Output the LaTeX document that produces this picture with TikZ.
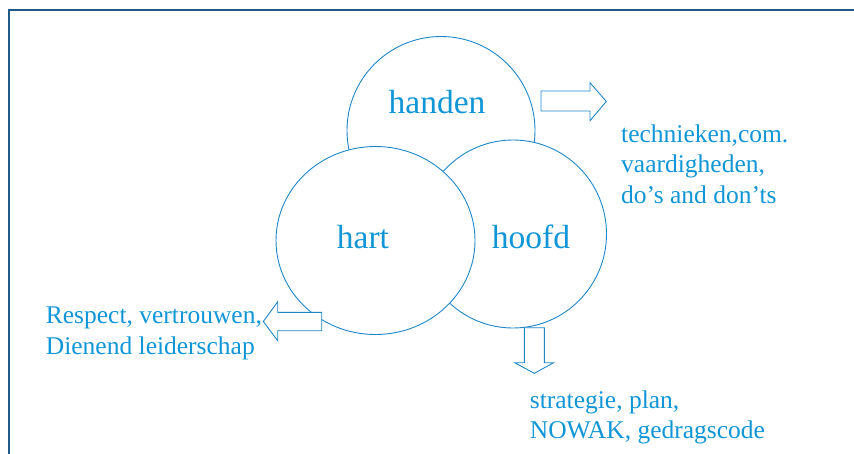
\documentclass[tikz,border=0pt]{standalone}
\usepackage{fontspec}
\setmainfont{Liberation Serif}
\definecolor{txtblue}{RGB}{16,150,214}
\definecolor{linblue}{RGB}{30,135,200}
\definecolor{frameblue}{RGB}{30,90,135}
\tikzset{
  ring/.style={draw=linblue, line width=0.9pt, fill=white},
  blockarrow/.style={draw=linblue, line width=0.9pt, fill=white, line join=miter},
  bigword/.style={text=txtblue, inner sep=0pt, anchor=base, font=\fontsize{33.5}{40}\selectfont},
  note/.style={text=txtblue, inner sep=0pt, anchor=base west, align=left, font=\fontsize{25.5}{30.7}\selectfont},
  framestyle/.style={draw=frameblue, line width=1.6pt}
}
\begin{document}
\begin{tikzpicture}[x=1pt,y=-1pt]
\useasboundingbox (0,0) rectangle (854,453);
% frame
\coordinate (fbl) at (9,454);
\coordinate (ftl) at (9,10);
\coordinate (ftr) at (855,10);
\draw[framestyle] (fbl) -- (ftl) -- (ftr);
% circles (drawn in stacking order)
\path[ring] (441,130.5) ellipse [x radius=94pt, y radius=94pt];
\path[ring] (513,234) ellipse [x radius=93.5pt, y radius=94pt];
\path[ring] (375.5,240.5) ellipse [x radius=99.5pt, y radius=94pt];
% block arrows
\path[blockarrow] (541,91) -- (590,91) -- (590,82.7) -- (606.3,101.5) -- (590,120.7) -- (590,111) -- (541,111) -- cycle;
\path[blockarrow] (321.7,312.3) -- (277.7,312.3) -- (277.7,301.7) -- (263.3,321.5) -- (277.7,340.7) -- (277.7,330.7) -- (321.7,330.7) -- cycle;
\path[blockarrow] (524.3,327.7) -- (524.3,362.7) -- (514.7,362.7) -- (534.3,373.3) -- (553.7,362.7) -- (544.3,362.7) -- (544.3,327.7) -- cycle;
% words
\node[bigword] (handen) at (437,113) {handen};
\node[bigword] (hart) at (363,248.3) {hart};
\node[bigword] (hoofd) at (531,248.3) {hoofd};
% notes (anchored at the baseline of their last line)
\node[note] (tech) at (621,203.5) {technieken,com.\\vaardigheden,\\do’s and don’ts};
\node[note] (resp) at (45.7,354.3) {Respect, vertrouwen,\\Dienend leiderschap};
\node[note] (strat) at (529.7,438.7) {strategie, plan,\\NOWAK, gedragscode};
\end{tikzpicture}
\end{document}
